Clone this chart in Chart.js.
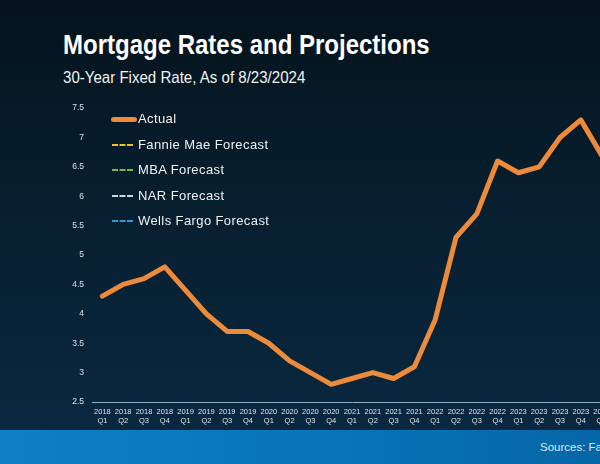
<!DOCTYPE html>
<html>
<head>
<meta charset="utf-8">
<script src="https://cdn.jsdelivr.net/npm/chart.js@4"></script>
<style>
  html, body { margin: 0; padding: 0; }
  body {
    width: 600px; height: 464px; overflow: hidden; position: relative;
    background: linear-gradient(180deg, #04131c 0%, #071d2c 35%, #0a2942 100%);
    font-family: 'Liberation Sans', Arial, sans-serif;
  }
  #title { position: absolute; left: 63px; top: 31px; font-size: 28px; line-height: 1; font-weight: bold; color: #fff; white-space: nowrap; transform: scaleX(0.857); transform-origin: 0 0; }
  #subtitle { position: absolute; left: 63px; top: 69px; font-size: 17px; line-height: 1; color: #f2f2f2; white-space: nowrap; transform: scaleX(0.886); transform-origin: 0 0; }
  #wrap { position: absolute; left: 0; top: 95px; width: 620px; height: 335px; }
  #band { position: absolute; left: 0; top: 430px; width: 600px; height: 34px; background: linear-gradient(90deg, #0d80c6 0%, #0873b8 60%, #0566a6 100%); }
  #source { position: absolute; left: 540px; top: 441px; font-size: 11.5px; color: #dbeaf6; white-space: nowrap; }
  #legend { position: absolute; left: 111px; top: 111px; }
  .item { height: 25.5px; display: flex; align-items: flex-start; font-size: 13px; letter-spacing: 0.4px; color: #f0f0f0; line-height: 16px; }
  .swatch { width: 26px; margin-top: 7px; margin-right: 4px; }
</style>
</head>
<body>
<div id="title">Mortgage Rates and Projections</div>
<div id="subtitle">30-Year Fixed Rate, As of 8/23/2024</div>
<div id="wrap"><canvas id="chart"></canvas></div>
<div id="legend"></div>
<div id="band"></div>
<div id="source">Sources: Fannie Mae, MBA, NAR, Wells Fargo</div>
<script>
const quarters = [
  ['2018','Q1'],['2018','Q2'],['2018','Q3'],['2018','Q4'],
  ['2019','Q1'],['2019','Q2'],['2019','Q3'],['2019','Q4'],
  ['2020','Q1'],['2020','Q2'],['2020','Q3'],['2020','Q4'],
  ['2021','Q1'],['2021','Q2'],['2021','Q3'],['2021','Q4'],
  ['2022','Q1'],['2022','Q2'],['2022','Q3'],['2022','Q4'],
  ['2023','Q1'],['2023','Q2'],['2023','Q3'],['2023','Q4'],
  ['2024','Q1']
];
const actual = [4.3, 4.5, 4.6, 4.8, 4.4, 4.0, 3.7, 3.7, 3.5, 3.2, 3.0, 2.8,
                2.9, 3.0, 2.9, 3.1, 3.9, 5.3, 5.7, 6.6, 6.4, 6.5, 7.0, 7.3, 6.7];
// forecast values lie outside the visible crop
const fannieMae = [];
const mba = [];
const nar = [];
const wellsFargo = [];
const yTicks = [2.5, 3, 3.5, 4, 4.5, 5, 5.5, 6, 6.5, 7, 7.5];

const datasets = [
  { label: 'Actual', data: actual, borderColor: '#ee8b3a', borderWidth: 5, dash: [] },
  { label: 'Fannie Mae Forecast', data: fannieMae, borderColor: '#f3c22b', borderWidth: 2, dash: [5, 3] },
  { label: 'MBA Forecast', data: mba, borderColor: '#7cb84a', borderWidth: 2, dash: [5, 3] },
  { label: 'NAR Forecast', data: nar, borderColor: '#c4dbe8', borderWidth: 2, dash: [5, 3] },
  { label: 'Wells Fargo Forecast', data: wellsFargo, borderColor: '#2e9ad8', borderWidth: 2, dash: [5, 3] }
];

const legend = document.getElementById('legend');
datasets.forEach(d => {
  const row = document.createElement('div');
  row.className = 'item';
  const sw = document.createElement('div');
  sw.className = 'swatch';
  if (d.dash.length) {
    sw.style.borderTop = '2px dashed ' + d.borderColor;
    sw.style.width = '21px';
    sw.style.marginLeft = '1px';
    sw.style.marginRight = '5px';
  } else {
    sw.style.height = '5px';
    sw.style.marginTop = '6px';
    sw.style.borderRadius = '3px';
    sw.style.background = d.borderColor;
    sw.style.marginRight = '1px';
  }
  row.appendChild(sw);
  const t = document.createElement('span');
  t.textContent = d.label;
  row.appendChild(t);
  legend.appendChild(row);
});

new Chart(document.getElementById('chart'), {
  type: 'line',
  data: {
    labels: quarters,
    datasets: datasets.map(d => ({
      label: d.label, data: d.data, borderColor: d.borderColor, borderWidth: d.borderWidth,
      borderDash: d.dash, pointRadius: 0, tension: 0, borderCapStyle: 'round', borderJoinStyle: 'round', fill: false
    }))
  },
  options: {
    responsive: true, maintainAspectRatio: false, animation: false,
    layout: { padding: { top: 8, right: 8, left: 0, bottom: 0 } },
    plugins: { legend: { display: false }, tooltip: { enabled: false } },
    scales: {
      x: {
        offset: true,
        grid: { display: false, drawTicks: false },
        border: { display: true, color: '#8fb2cb', width: 1 },
        ticks: { color: '#dbe2e8', font: { size: 7.5, family: "'Liberation Sans Narrow', 'Liberation Sans', Arial", lineHeight: 1.2 }, maxRotation: 0, autoSkip: false, padding: 5 },
        afterFit: s => { s.height = 28; }
      },
      y: {
        min: 2.5, max: 7.5,
        afterBuildTicks: s => { s.ticks = yTicks.map(v => ({ value: v })); },
        grid: { display: false, drawTicks: false },
        border: { display: false },
        ticks: { color: '#dbe2e8', font: { size: 8.5, family: "'Liberation Sans', Arial" }, padding: 8, callback: v => String(v) },
        afterFit: s => { s.width = 92; }
      }
    }
  }
});
</script>
</body>
</html>
